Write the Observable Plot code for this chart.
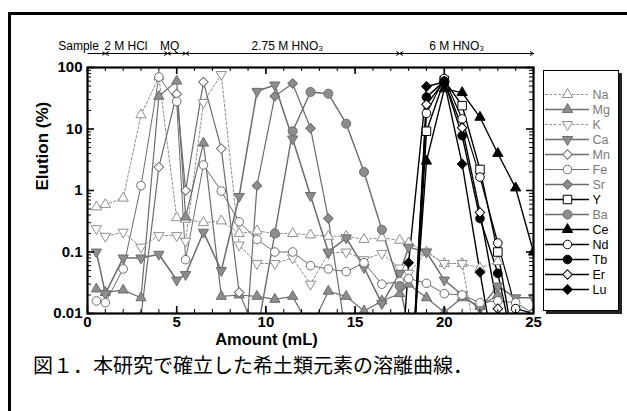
<!DOCTYPE html>
<html><head><meta charset="utf-8">
<script src="https://cdn.jsdelivr.net/npm/d3@7"></script>
<script src="https://cdn.jsdelivr.net/npm/@observablehq/plot@0.6"></script>
<style>
body{margin:0;background:#fff;}
#wrap{position:relative;width:627px;height:411px;overflow:hidden;background:#fff;font-family:"Liberation Sans",Arial,sans-serif;}
#chart{position:absolute;left:0;top:0;}
#frame{position:absolute;left:8px;top:12px;width:700px;height:500px;border-left:3px solid #000;border-top:3px solid #000;}
#legbox{position:absolute;left:543px;top:70px;width:74px;height:239px;border:1.5px solid #000;box-shadow:3px 3px 0 #222;background:#fff;}
#legend{position:absolute;left:543px;top:70px;}
#caption{position:absolute;left:33px;top:355px;line-height:20px;font-family:"Noto Sans CJK JP",sans-serif;font-size:20px;white-space:nowrap;color:#000;}
</style></head>
<body>
<div id="wrap">
  <div id="chart"></div>
  <div id="frame"></div>
  <div id="legbox"></div>
  <div id="legend"></div>
  <div id="caption">図１．本研究で確立した希土類元素の溶離曲線．</div>
</div>
<script>
// ---------- data ----------
const xs = [0.5,1,2,3,4,5,5.5,6.5,7.5,8.5,9.5,10.5,11.5,12.5,13.5,14.5,15.5,16.5,17.5,18,19,20,21,22,23,24,25];
const names = ["Na","Mg","K","Ca","Mn","Fe","Sr","Y","Ba","Ce","Nd","Tb","Er","Lu"];
const na = [0.54,0.59,0.75,17,70,0.36,0.34,0.30,0.32,0.20,0.22,0.20,0.20,0.19,0.18,0.18,0.16,0.17,0.155,0.14,0.10,0.065,0.065,0.055,0.07,null,null];
const mg = [0.025,0.022,0.024,0.018,34,60,0.37,5.9,0.019,0.02,0.019,0.017,0.019,0.0055,0.023,0.019,0.011,0.016,0.021,0.03,0.018,0.0105,0.018,0.013,0.02,null,null];
const k  = [0.24,0.18,0.21,0.12,0.185,0.185,0.15,27,77,0.13,0.065,0.065,0.08,0.03,0.095,0.10,0.075,0.095,0.055,0.045,0.10,0.065,0.065,0.0016,null,null,null];
const ca = [0.1,0.021,0.08,0.08,0.092,0.035,0.043,0.21,0.05,0.8,41,52,6.9,0.83,0.1,0.17,0.056,0.0145,0.045,0.12,0.1,0.035,0.02,0.012,0.028,0.018,0.018];
const mn = [null,null,null,0.009,2.4,37,1.0,58,4.8,0.022,0.0045,null,null,null,null,null,null,null,null,null,null,null,null,null,null,null,null];
const fe = [0.016,0.015,0.053,1.2,70,28,0.075,2.6,0.98,0.31,0.16,0.1,0.1,0.06,0.053,0.048,0.067,0.03,0.033,0.037,0.031,0.021,0.02,0.015,0.016,0.015,0.01];
const sr = [null,null,null,null,null,null,null,null,null,0.0001,1.2,34,55,10.3,0.35,0.0041,null,null,null,null,null,null,null,null,null,null,null];
const y_ = [null,null,null,null,null,null,null,null,null,null,null,null,null,null,null,null,null,null,null,0.0001,9.2,62,24,2.2,0.1,0.0021,null];
const ba = [null,null,null,null,null,null,null,null,null,null,0.0047,0.2,9.2,40,37.5,12.2,2.0,0.23,0.028,0.006,null,null,null,null,null,null,null];
const ce = [null,null,null,null,null,null,null,null,null,null,null,null,null,null,null,null,null,null,null,0.0003,3.0,45,39,15.5,4.0,1.1,0.1];
const nd = [null,null,null,null,null,null,null,null,null,null,null,null,null,null,null,null,null,null,null,0.0001,18,66,14.6,1.65,0.14,0.012,0.01];
const tb = [null,null,null,null,null,null,null,null,null,null,null,null,null,null,null,null,null,null,null,0.0001,33,60,7.8,0.35,0.045,0.002,null];
const er = [null,null,null,null,null,null,null,null,null,null,null,null,null,null,null,null,null,null,null,0.0001,25,60,10.5,0.44,0.012,0.001,null];
const lu = [null,null,null,null,null,null,null,null,null,null,null,null,null,null,null,null,null,null,0.0005,0.067,49,58,2.7,0.047,0.001,null,null];
const values = {Na: na, Mg: mg, K: k, Ca: ca, Mn: mn, Fe: fe, Sr: sr, Y: y_, Ba: ba, Ce: ce, Nd: nd, Tb: tb, Er: er, Lu: lu};

const xMajor = [0,5,10,15,20,25];
const xMinor = d3.range(0, 26, 1);
const yMajor = [0.01,0.1,1,10,100];
const yMinor = [0.01,0.1,1,10].flatMap(d => [2,3,4,5,6,7,8,9].map(m => d*m));
const phaseLabels = ["Sample","2 M HCl","MQ","2.75 M HNO₃","6 M HNO₃"];
const phaseLabelX = [-0.5,2.15,4.6,11.2,20.7];
const phaseBounds = [0,1,4.5,5.5,17.5,25];

// ---------- styles ----------
const GL = "#6c6c6c", GF = "#8d8d8d", LT = "#8f8f8f";
const st = {
  Na:{stroke:LT, sw:1, dash:"2.5,2", symbol:"triangle", fill:"#fff", mstroke:LT, rot:0, r:3.8, tc:"#7a7a7a"},
  Mg:{stroke:GL, sw:1.2, dash:null, symbol:"triangle", fill:GF, mstroke:GL, rot:0, r:3.8, tc:"#7a7a7a"},
  K: {stroke:LT, sw:1, dash:"2.5,2", symbol:"triangle", fill:"#fff", mstroke:LT, rot:180, r:3.8, tc:"#7a7a7a"},
  Ca:{stroke:GL, sw:1.5, dash:null, symbol:"triangle", fill:GF, mstroke:GL, rot:180, r:3.8, tc:"#7a7a7a"},
  Mn:{stroke:GL, sw:1.2, dash:null, symbol:"square", fill:"#fff", mstroke:GL, rot:45, r:3.8, tc:"#7a7a7a"},
  Fe:{stroke:GL, sw:1, dash:null, symbol:"circle", fill:"#fff", mstroke:GL, rot:0, r:4.3, tc:"#7a7a7a"},
  Sr:{stroke:GL, sw:1.2, dash:null, symbol:"square", fill:GF, mstroke:GL, rot:45, r:3.8, tc:"#7a7a7a"},
  Y: {stroke:"#000", sw:1.4, dash:null, symbol:"square", fill:"#fff", mstroke:"#000", rot:0, r:4.8, tc:"#000"},
  Ba:{stroke:GL, sw:1.4, dash:null, symbol:"circle", fill:GF, mstroke:GL, rot:0, r:4.5, tc:"#7a7a7a"},
  Ce:{stroke:"#000", sw:1.4, dash:null, symbol:"triangle", fill:"#000", mstroke:"#000", rot:0, r:3.8, tc:"#000"},
  Nd:{stroke:"#000", sw:1.2, dash:null, symbol:"circle", fill:"#fff", mstroke:"#000", rot:0, r:4.3, tc:"#000"},
  Tb:{stroke:"#000", sw:1.4, dash:null, symbol:"circle", fill:"#000", mstroke:"#000", rot:0, r:4.3, tc:"#000"},
  Er:{stroke:"#000", sw:1.4, dash:null, symbol:"square", fill:"#fff", mstroke:"#000", rot:45, r:3.8, tc:"#000"},
  Lu:{stroke:"#000", sw:1.4, dash:null, symbol:"square", fill:"#000", mstroke:"#000", rot:45, r:3.8, tc:"#000"}
};

// ---------- main chart ----------
const W = 627, H = 352, ML = 87, MR = 94, MT = 67, MB = 39;
const iw = W - ML - MR, ih = H - MT - MB;
const marks = [];
const drawOrder = ["Na","K","Mg","Ca","Mn","Fe","Sr","Ba","Y","Ce","Nd","Tb","Er","Lu"];
for (const n of drawOrder) {
  const s = st[n];
  const rows = xs.map((x, i) => ({x, v: values[n][i]})).filter(d => d.v != null);
  marks.push(Plot.line(rows, {x: "x", y: "v", stroke: s.stroke, strokeWidth: s.sw, strokeDasharray: s.dash, clip: true}));
}
for (const n of drawOrder) {
  const s = st[n];
  const rows = xs.map((x, i) => ({x, v: values[n][i]})).filter(d => d.v != null);
  marks.push(Plot.dot(rows, {x: "x", y: "v", symbol: s.symbol, r: s.r, fill: s.fill, stroke: s.mstroke, strokeWidth: 1, rotate: s.rot, clip: true}));
}
// ticks (inward, all four sides)
marks.push(Plot.tickX(xMinor, {x: d => d, insetTop: ih - 4, stroke: "#000"}));
marks.push(Plot.tickX(xMajor, {x: d => d, insetTop: ih - 7, stroke: "#000", strokeWidth: 1.6}));
marks.push(Plot.tickX(xMinor, {x: d => d, insetBottom: ih - 4, stroke: "#000"}));
marks.push(Plot.tickX(xMajor, {x: d => d, insetBottom: ih - 7, stroke: "#000", strokeWidth: 1.6}));
marks.push(Plot.tickY(yMinor, {y: d => d, insetRight: iw - 4, stroke: "#000"}));
marks.push(Plot.tickY(yMajor, {y: d => d, insetRight: iw - 7, stroke: "#000", strokeWidth: 1.6}));
marks.push(Plot.tickY(yMinor, {y: d => d, insetLeft: iw - 4, stroke: "#000"}));
marks.push(Plot.tickY(yMajor, {y: d => d, insetLeft: iw - 7, stroke: "#000", strokeWidth: 1.6}));
marks.push(Plot.frame({stroke: "#000", strokeWidth: 2.2}));
// tick labels
marks.push(Plot.text(xMajor, {x: d => d, frameAnchor: "bottom", dy: 13, text: d => String(d), fontSize: 15, fontWeight: "bold", fill: "#000"}));
marks.push(Plot.text(yMajor, {y: d => d, frameAnchor: "left", dx: -5, textAnchor: "end", text: d => String(d), fontSize: 15, fontWeight: "bold", fill: "#000"}));
// axis titles
marks.push(Plot.text(["Amount (mL)"], {frameAnchor: "bottom", dx: -44, dy: 31, text: d => d, fontSize: 16.5, fontWeight: "bold", fill: "#000"}));
marks.push(Plot.text(["Elution (%)"], {frameAnchor: "left", dx: -45, rotate: -90, text: d => d, fontSize: 17, fontWeight: "bold", fill: "#000"}));
// eluent annotation above plot
const phaseRows = phaseLabels.map((t, i) => ({t, x: phaseLabelX[i]}));
marks.push(Plot.text(phaseRows, {x: "x", frameAnchor: "top", dy: -26, text: "t", fontSize: 12, fill: "#000"}));
const arrowRows = [], plainRows = [];
for (let i = 0; i < phaseBounds.length - 1; i++) {
  const a = phaseBounds[i], b = phaseBounds[i + 1], m = (a + b) / 2;
  arrowRows.push({x1: m, x2: b});
  if (i > 0) arrowRows.push({x1: m, x2: a}); else plainRows.push({x1: m, x2: a});
}
marks.push(Plot.arrow(arrowRows, {x1: "x1", x2: "x2", y1: 100, y2: 100, dy: -14, headLength: 5.5, headAngle: 60, stroke: "#000", strokeWidth: 1}));
marks.push(Plot.link(plainRows, {x1: "x1", x2: "x2", y1: 100, y2: 100, dy: -14, stroke: "#000", strokeWidth: 1}));

const chart = Plot.plot({
  width: W, height: H,
  marginLeft: ML, marginRight: MR, marginTop: MT, marginBottom: MB,
  x: {domain: [0, 25], axis: null},
  y: {type: "log", domain: [0.01, 100], axis: null},
  style: {fontFamily: "'Liberation Sans', Arial, sans-serif", background: "transparent", overflow: "visible"},
  marks
});
document.getElementById("chart").appendChild(chart);

// ---------- legend ----------
const lmarks = [];
for (const n of names) {
  const s = st[n];
  lmarks.push(Plot.ruleY([n], {y: d => d, x1: 0, x2: 1, stroke: s.stroke, strokeWidth: s.sw + 0.2, strokeDasharray: s.dash}));
  lmarks.push(Plot.dot([n], {x: 0.5, y: d => d, symbol: s.symbol, r: s.r, fill: s.fill, stroke: s.mstroke, strokeWidth: 1, rotate: s.rot}));
  lmarks.push(Plot.text([n], {x: 1, y: d => d, dx: 3, textAnchor: "start", text: d => d, fill: s.tc, fontSize: 12.5}));
}
const legend = Plot.plot({
  width: 77, height: 242, margin: 0,
  x: {domain: [0, 1], range: [2, 46], axis: null},
  y: {type: "point", domain: names, range: [13, 229], axis: null},
  style: {fontFamily: "'Liberation Sans', Arial, sans-serif", background: "transparent", overflow: "visible"},
  marks: lmarks
});
document.getElementById("legend").appendChild(legend);
</script>
</body></html>
